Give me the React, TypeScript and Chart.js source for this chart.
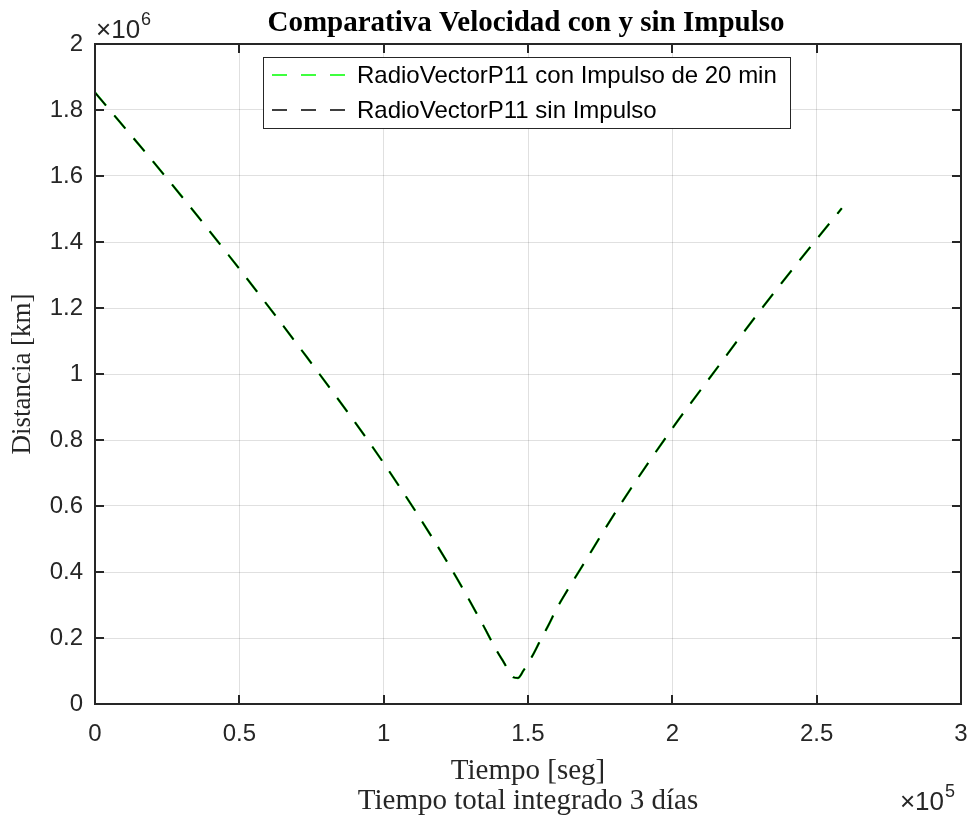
import React, { useEffect, useRef } from 'react';
import { Chart, registerables } from 'chart.js';

Chart.register(...registerables);

// Tiempo de integración [s]
const tiempoSeg = [
  0, 25400, 46200, 73300, 99300, 123000, 134000, 139200, 141500, 144900,
  146500, 148400, 151900, 154000, 157100, 160000, 162300, 168100, 181900,
  200400, 213700, 231000, 251800, 258700,
];

// Distancia [km]
const distanciaConImpulso = [
  1853000, 1588000, 1361000, 1052000, 739000, 416000, 246000, 161000, 128000, 81000,
  79000, 101000, 152000, 188000, 239000, 290000, 325000, 408000, 603000,
  840000, 997000, 1199000, 1428000, 1502000,
];

const distanciaSinImpulso = [
  1853000, 1588000, 1361000, 1052000, 739000, 416000, 246000, 161000, 128000, 81000,
  79000, 101000, 152000, 188000, 239000, 290000, 325000, 408000, 603000,
  840000, 997000, 1199000, 1428000, 1502000,
];

const serieNombres = ['RadioVectorP11 con Impulso de 20 min', 'RadioVectorP11 sin Impulso'];
const serieColores = ['#00ff00', '#000000'];

const titulo = 'Comparativa Velocidad con y sin Impulso';
const tituloX = ['Tiempo [seg]', 'Tiempo total integrado 3 días'];
const tituloY = 'Distancia [km]';

const SANS = '"Liberation Sans", Arial, sans-serif';
const SERIF = '"Liberation Serif", "Times New Roman", serif';
const AXIS = '#262626';
const DASH = [17, 13];

const toPoints = (ys: number[]) => tiempoSeg.map((x, i) => ({ x, y: ys[i] }));

const fmt = (v: number, div: number) => parseFloat((v / div).toFixed(2)).toString();

// Axis box, inward tick marks, exponent labels, title and legend (MATLAB style)
const decorPlugin = {
  id: 'decor',
  afterDraw(chart: any) {
    const { ctx, chartArea: a, scales } = chart;
    const xs = scales.x;
    const ys = scales.y;
    ctx.save();

    // box
    ctx.strokeStyle = AXIS;
    ctx.lineWidth = 2;
    ctx.setLineDash([]);
    ctx.strokeRect(a.left, a.top, a.right - a.left, a.bottom - a.top);

    // inward ticks
    const tl = 9;
    ctx.beginPath();
    xs.ticks.forEach((t: any) => {
      const px = Math.round(xs.getPixelForValue(t.value));
      ctx.moveTo(px, a.bottom);
      ctx.lineTo(px, a.bottom - tl);
      ctx.moveTo(px, a.top);
      ctx.lineTo(px, a.top + tl);
    });
    ys.ticks.forEach((t: any) => {
      const py = Math.round(ys.getPixelForValue(t.value));
      ctx.moveTo(a.left, py);
      ctx.lineTo(a.left + tl, py);
      ctx.moveTo(a.right, py);
      ctx.lineTo(a.right - tl, py);
    });
    ctx.stroke();

    // exponent labels
    ctx.fillStyle = AXIS;
    ctx.textBaseline = 'alphabetic';
    ctx.textAlign = 'left';
    ctx.font = `26px ${SANS}`;
    ctx.fillText('\u00d710', a.left + 1, a.top - 6);
    let w = ctx.measureText('\u00d710').width;
    ctx.font = `18px ${SANS}`;
    ctx.fillText('6', a.left + 2 + w, a.top - 19);

    ctx.font = `26px ${SANS}`;
    w = ctx.measureText('\u00d710').width;
    const ex = a.right - w - 17;
    ctx.fillText('\u00d710', ex, a.bottom + 106);
    ctx.font = `18px ${SANS}`;
    ctx.fillText('5', ex + w + 1, a.bottom + 93);

    // title
    ctx.fillStyle = '#000';
    ctx.font = `bold 29px ${SERIF}`;
    ctx.textAlign = 'center';
    ctx.fillText(titulo, (a.left + a.right) / 2 - 2, 31);

    // legend
    const lx = 263.5;
    const ly = 57.5;
    const lw = 527;
    const lh = 71;
    ctx.fillStyle = '#fff';
    ctx.fillRect(lx, ly, lw, lh);
    ctx.strokeStyle = AXIS;
    ctx.lineWidth = 1;
    ctx.strokeRect(lx, ly, lw, lh);
    ctx.font = `24px ${SANS}`;
    ctx.textAlign = 'left';
    ctx.textBaseline = 'middle';
    const rows = [75, 110];
    serieNombres.forEach((name, i) => {
      const y = rows[i];
      ctx.strokeStyle = serieColores[i];
      ctx.lineWidth = 1.3;
      ctx.setLineDash([15, 14]);
      ctx.beginPath();
      ctx.moveTo(272, y);
      ctx.lineTo(352, y);
      ctx.stroke();
      ctx.setLineDash([]);
      ctx.fillStyle = '#000';
      ctx.fillText(name, 357, y + 1);
    });

    ctx.restore();
  },
};

export default function App() {
  const canvasRef = useRef<HTMLCanvasElement | null>(null);

  useEffect(() => {
    if (!canvasRef.current) return;
    const chart = new Chart(canvasRef.current, {
      type: 'line',
      data: {
        datasets: [
          {
            label: serieNombres[0],
            data: toPoints(distanciaConImpulso),
            borderColor: serieColores[0],
            borderWidth: 2.4,
            borderDash: DASH,
            pointRadius: 0,
            cubicInterpolationMode: 'monotone',
            order: 1,
          },
          {
            label: serieNombres[1],
            data: toPoints(distanciaSinImpulso),
            borderColor: serieColores[1],
            borderWidth: 1.6,
            borderDash: DASH,
            pointRadius: 0,
            cubicInterpolationMode: 'monotone',
            order: 0,
          },
        ],
      },
      options: {
        responsive: false,
        animation: false,
        events: [],
        layout: { padding: { left: 0, right: 11, top: 44, bottom: 0 } },
        plugins: {
          legend: { display: false },
          tooltip: { enabled: false },
          title: { display: false },
        },
        scales: {
          x: {
            type: 'linear',
            min: 0,
            max: 300000,
            ticks: {
              stepSize: 50000,
              padding: 16,
              color: AXIS,
              font: { family: SANS, size: 24 },
              maxRotation: 0,
              callback: (v: any) => fmt(Number(v), 1e5),
            },
            grid: { color: 'rgba(0,0,0,0.12)', lineWidth: 1, drawTicks: false },
            border: { display: false },
            title: {
              display: true,
              text: tituloX,
              color: AXIS,
              font: { family: SERIF, size: 29, lineHeight: 1.05 },
              padding: { top: 0, bottom: 4 },
            },
            afterFit: (s: any) => {
              s.height = 117;
              s.paddingLeft = 0;
              s.paddingRight = 0;
            },
          },
          y: {
            type: 'linear',
            min: 0,
            max: 2000000,
            ticks: {
              stepSize: 200000,
              padding: 12,
              color: AXIS,
              font: { family: SANS, size: 24 },
              callback: (v: any) => fmt(Number(v), 1e6),
            },
            grid: { color: 'rgba(0,0,0,0.12)', lineWidth: 1, drawTicks: false },
            border: { display: false },
            title: {
              display: true,
              text: tituloY,
              color: AXIS,
              font: { family: SERIF, size: 27 },
              padding: { top: 7, bottom: 0 },
            },
            afterFit: (s: any) => {
              s.width = 95;
              s.paddingTop = 0;
              s.paddingBottom = 0;
            },
          },
        },
      },
      plugins: [decorPlugin],
    } as any);
    return () => chart.destroy();
  }, []);

  return (
    <div style={{ position: 'absolute', left: 0, top: 0, width: 972, height: 821, background: '#fff' }}>
      <canvas ref={canvasRef} width={972} height={821} />
    </div>
  );
}
